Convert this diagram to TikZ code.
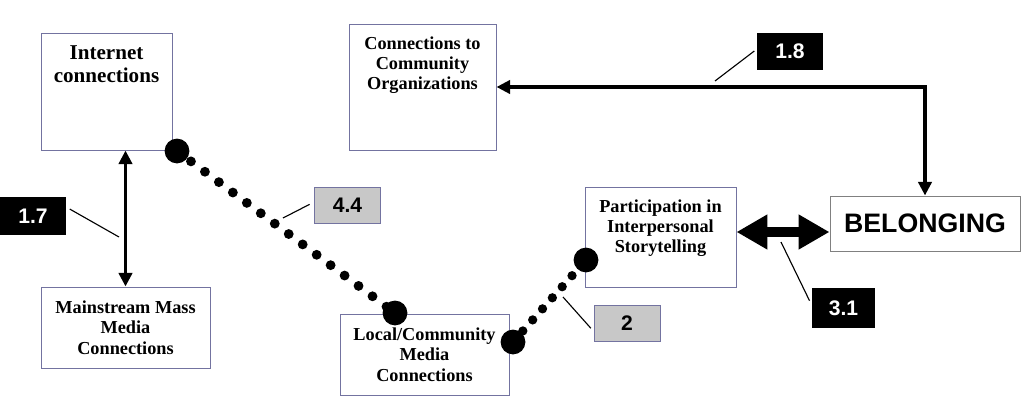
\documentclass[tikz,border=0pt]{standalone}
\usepackage{fontspec}
\setmainfont{Liberation Serif}
\setsansfont{Liberation Sans}
\usetikzlibrary{arrows.meta}
\definecolor{boxline}{RGB}{115,115,160}
\definecolor{labelgray}{RGB}{200,200,200}
\newcommand{\toptext}[3]{\parbox[c][#1][t]{#2}{\centering\vspace*{3.1mm}#3}}

\begin{document}
\begin{tikzpicture}[>={Triangle[length=3.4mm,width=3.3mm]},
	box/.style={draw=boxline, line width=0.7pt, fill=white, inner sep=0pt, align=center, font=\bfseries\fontsize{13}{14.5}\selectfont},
	darklabel/.style={fill=black, text=white, minimum width=1.65cm, minimum height=0.93cm, font=\sffamily\bfseries\fontsize{15}{18}\selectfont},
	greylabel/.style={draw=boxline, line width=0.7pt, fill=labelgray, minimum width=1.65cm, minimum height=0.9cm, font=\sffamily\bfseries\fontsize{15}{18}\selectfont},
	bigdot/.style={circle, fill=black, inner sep=0pt, minimum size=0.62cm},
	dots/.style={line width=7pt, line cap=round, dash pattern=on 0pt off #1},
	leader/.style={line width=0.8pt},
	link/.style={<->, line width=2.8pt}]
	\useasboundingbox (0,0) rectangle (25.675,10.35);

	\node[box, font=\bfseries\fontsize{15}{16.5}\selectfont] (internet) at (2.6625,8.0625) {\toptext{2.925cm}{3.275cm}{Internet\\connections}};
	\node[box] (connections) at (10.5625,8.175) {\toptext{3.15cm}{3.675cm}{Connections to\\Community\\Organizations}};
	\node[box, minimum width=4.225cm, minimum height=2.025cm] (mainstream) at (3.1375,2.1625) {Mainstream Mass\\Media\\Connections};
	\node[box, minimum width=4.225cm, minimum height=2.025cm] (local) at (10.6125,1.4875) {Local/Community\\Media\\Connections};
	\node[box] (participation) at (16.5125,4.425) {\toptext{2.5cm}{3.775cm}{Participation in\\Interpersonal\\Storytelling}};
	\node[box, draw=gray, minimum width=4.75cm, minimum height=1.375cm, font=\sffamily\bfseries\fontsize{19}{22}\selectfont] (belonging) at (23.125,4.7625) {BELONGING};

	\node[darklabel] (l17) at (0.825,4.95) {1.7};
	\node[greylabel] (l44) at (8.6875,5.225) {4.4};
	\node[darklabel] (l18) at (19.75,9.0625) {1.8};
	\node[greylabel] (l2) at (15.675,2.2625) {2};
	\node[darklabel, minimum width=1.575cm, minimum height=1cm] (l31) at (21.0875,2.65) {3.1};

	\node[bigdot] (d1) at (4.425,6.575) {};
	\node[bigdot] (d2) at (9.875,2.525) {};
	\node[bigdot] (d3) at (12.825,1.8) {};
	\node[bigdot] (d4) at (14.65,3.85) {};
	\draw[dots=0.435cm] (d1.center) -- (d2.center);
	\draw[dots=0.37cm, line width=6.6pt] (d3.center) -- (d4.center);

	\draw[link] (mainstream.north) -- (mainstream.north |- internet.south);
	\draw[link] (connections.east) -| (belonging.north);
	\coordinate (pa) at ([yshift=1.25mm]participation.east);
	\draw[{Triangle[length=7.7mm,width=8.2mm]}-{Triangle[length=7.7mm,width=8.2mm]}, line width=7pt] (pa) -- (pa -| belonging.west);

	\coordinate (t17) at (2.975,4.425);
	\coordinate (t44) at (7.075,4.9);
	\coordinate (t18) at (17.875,8.325);
	\coordinate (t2) at (14.075,2.925);
	\coordinate (t31) at (19.525,4.3);
	\draw[leader, shorten <=1mm] (l17.15) -- (t17);
	\draw[leader, shorten <=1.25mm] (l44.175) -- (t44);
	\draw[leader, shorten <=0.75mm] (l18.176) -- (t18);
	\draw[leader, shorten <=1mm] (l2.193) -- (t2);
	\draw[leader, shorten <=1.25mm] (l31.175) -- (t31);
\end{tikzpicture}
\end{document}
